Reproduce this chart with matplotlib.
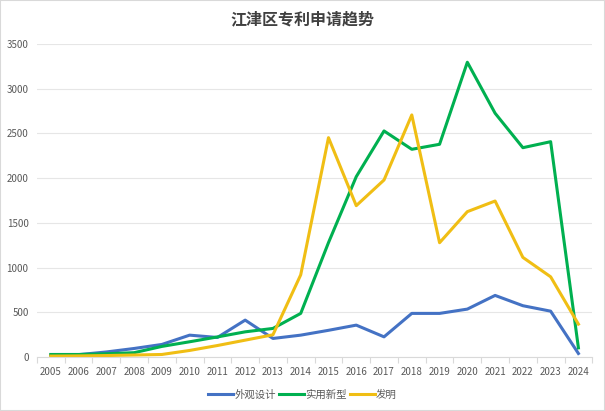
import matplotlib
matplotlib.use("Agg")
import matplotlib.pyplot as plt
from matplotlib.patches import Rectangle

plt.rcParams['font.family'] = ['Noto Sans CJK SC', 'DejaVu Sans']

years = [str(y) for y in range(2005, 2025)]
design = [22, 28, 58, 97, 142, 246, 220, 414, 209, 246, 300, 358, 227, 489, 489, 537, 690, 575, 514, 41]
utility = [30, 30, 38, 50, 120, 172, 226, 283, 321, 489, 1280, 2017, 2528, 2323, 2379, 3296, 2726, 2341, 2408, 104]
invention = [12, 14, 18, 24, 30, 75, 130, 190, 250, 920, 2453, 1693, 1980, 2707, 1279, 1626, 1745, 1115, 898, 369]
series_names = ['外观设计', '实用新型', '发明']
colors = ['#4472C4', '#00B050', '#F0BE14']

fig = plt.figure(figsize=(6.05, 4.11), dpi=100)
fig.patches.append(Rectangle((0, 0), 1, 1, transform=fig.transFigure, fill=False,
                             edgecolor='#d9d9d9', linewidth=1.5))
ax = fig.add_axes([0.061, 0.131, 0.918, 0.762])

x = list(range(len(years)))
for vals, name, c in zip([design, utility, invention], series_names, colors):
    ax.plot(x, vals, color=c, linewidth=2.2, label=name, solid_joinstyle='round')

ax.set_xlim(-0.5, len(years) - 0.5)
ax.set_ylim(0, 3500)
ax.set_yticks(range(0, 3501, 500))
ax.set_xticks(x)
ax.set_xticklabels(years)
ax.set_xticks([i - 0.5 for i in range(len(years) + 1)], minor=True)
ax.tick_params(axis='x', which='major', length=0, labelsize=7, colors='#595959', pad=7)
ax.tick_params(axis='x', which='minor', length=4, color='#d9d9d9', width=0.8)
ax.tick_params(axis='y', length=0, labelsize=7, colors='#595959', pad=6)
for s in ['top', 'right', 'left']:
    ax.spines[s].set_visible(False)
ax.spines['bottom'].set_color('#d9d9d9')
ax.spines['bottom'].set_linewidth(0.8)
ax.grid(axis='y', color='#e6e6e6', linewidth=0.8)
ax.set_axisbelow(True)

fig.text(0.5, 0.954, '江津区专利申请趋势', ha='center', va='center', fontsize=11.5,
         fontweight='bold', color='#404040')

fig.legend(loc='center', bbox_to_anchor=(0.5, 0.04), ncol=3, frameon=False,
           fontsize=7.5, labelcolor='#595959', handlelength=2.4, handletextpad=0.15,
           columnspacing=0.25)

fig.savefig('out.png', dpi=100)
